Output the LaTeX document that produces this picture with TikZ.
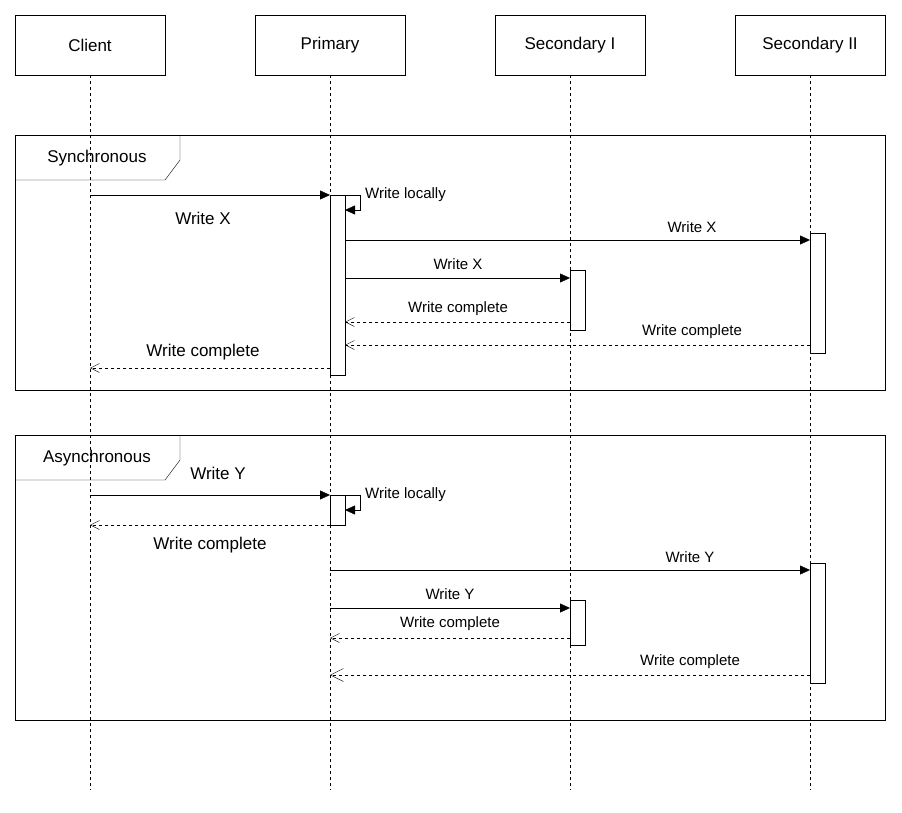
\documentclass[tikz,border=0pt]{standalone}
\usepackage{fontspec}
\setmainfont{Liberation Sans}
\usetikzlibrary{arrows.meta}
\begin{document}
\begin{tikzpicture}[x=1pt, y=-1pt]
%% pixel grid of the drawing, y grows downwards
\tikzstyle{actor}=[draw, minimum width=150pt, minimum height=60pt, font=\fontsize{17}{20}\selectfont, inner sep=0pt]
\tikzstyle{life}=[dashed, thin]
\tikzstyle{act}=[draw, fill=white, minimum width=15pt, inner sep=0pt, anchor=north west]
\tikzstyle{msg}=[-{Triangle[length=10pt,width=9pt]}, thin]
\tikzstyle{ret}=[dashed, -{Straight Barb[length=9pt,width=9pt]}, thin]
\tikzstyle{lbl}=[font=\fontsize{15}{18}\selectfont, inner sep=1pt]
\tikzstyle{biglbl}=[font=\fontsize{17}{20}\selectfont, inner sep=1pt]
\tikzstyle{frame}=[draw, thin]
\useasboundingbox (0,0) rectangle (902,812);
%% lifeline heads
\node[actor] at (90,45) (Client) {Client};
\node[actor] at (330,45) (Primary) {Primary};
\node[actor] at (570,45) (SecI) {Secondary I};
\node[actor] at (810,45) (SecII) {Secondary II};
\foreach \n/\x in {Client/90,Primary/330,SecI/570,SecII/810}{
  \coordinate (\n_end) at (\x,790);
  \draw[life] (\n.south) -- (\n_end);
}
%% frames
\draw[frame] (15,135) rectangle (885,390);
\draw[frame] (15,180) -- (165,180) -- (180,160) -- (180,135);
\node[biglbl] at (97,158) (syncLbl) {Synchronous};
\draw[frame] (15,435) rectangle (885,720);
\draw[frame] (15,480) -- (165,480) -- (180,460) -- (180,435);
\node[biglbl] at (97,458) (asyncLbl) {Asynchronous};
%% activations, synchronous part
\node[act, minimum height=180pt] at (330,195) (P1) {};
\node[act, minimum height=60pt] at (570,270) (S1) {};
\node[act, minimum height=120pt] at (810,233) (T1) {};
%% synchronous messages
\coordinate (c1) at (90,195); \coordinate (p1) at (330,195);
\draw[msg] (c1) -- (p1);
\node[biglbl] at (203,218) {Write X};
\coordinate (l1a) at (345,195); \coordinate (l1b) at (345,210);
\draw[msg] (l1a) -- (360,195) -- (360,210) -- (l1b);
\node[lbl, anchor=west] at (364,195) {Write locally};
\coordinate (p2) at (345,240); \coordinate (t2) at (810,240);
\draw[msg] (p2) -- (t2);
\node[lbl] at (692,227) {Write X};
\coordinate (p3) at (345,278); \coordinate (s3) at (570,278);
\draw[msg] (p3) -- (s3);
\node[lbl] at (458,264) {Write X};
\coordinate (s4) at (570,322); \coordinate (p4) at (345,322);
\draw[ret] (s4) -- (p4);
\node[lbl] at (458,309) {Write complete};
\coordinate (t5) at (810,345); \coordinate (p5) at (345,345);
\draw[ret] (t5) -- (p5);
\node[lbl] at (692,332) {Write complete};
\coordinate (p6) at (330,368); \coordinate (c6) at (90,368);
\draw[ret] (p6) -- (c6);
\node[biglbl] at (203,352) {Write complete};
%% activations, asynchronous part
\node[act, minimum height=30pt] at (330,495) (P2) {};
\node[act, minimum height=45pt] at (570,600) (S2) {};
\node[act, minimum height=120pt] at (810,563) (T2) {};
%% asynchronous messages
\coordinate (c7) at (90,495); \coordinate (p7) at (330,495);
\draw[msg] (c7) -- (p7);
\node[biglbl] at (218,473) {Write Y};
\coordinate (l2a) at (345,495); \coordinate (l2b) at (345,510);
\draw[msg] (l2a) -- (360,495) -- (360,510) -- (l2b);
\node[lbl, anchor=west] at (364,495) {Write locally};
\coordinate (p8) at (330,525); \coordinate (c8) at (90,525);
\draw[ret] (p8) -- (c8);
\node[biglbl] at (210,545) {Write complete};
\coordinate (p9) at (330,570); \coordinate (t9) at (810,570);
\draw[msg] (p9) -- (t9);
\node[lbl] at (690,557) {Write Y};
\coordinate (p10) at (330,608); \coordinate (s10) at (570,608);
\draw[msg] (p10) -- (s10);
\node[lbl] at (450,594) {Write Y};
\coordinate (s11) at (570,638); \coordinate (p11) at (330,638);
\draw[ret] (s11) -- (p11);
\node[lbl] at (450,624) {Write complete};
\coordinate (t12) at (810,675); \coordinate (p12) at (330,675);
\draw[ret, -{Straight Barb[length=13pt,width=13pt]}] (t12) -- (p12);
\node[lbl] at (690,662) {Write complete};
\end{tikzpicture}
\end{document}
